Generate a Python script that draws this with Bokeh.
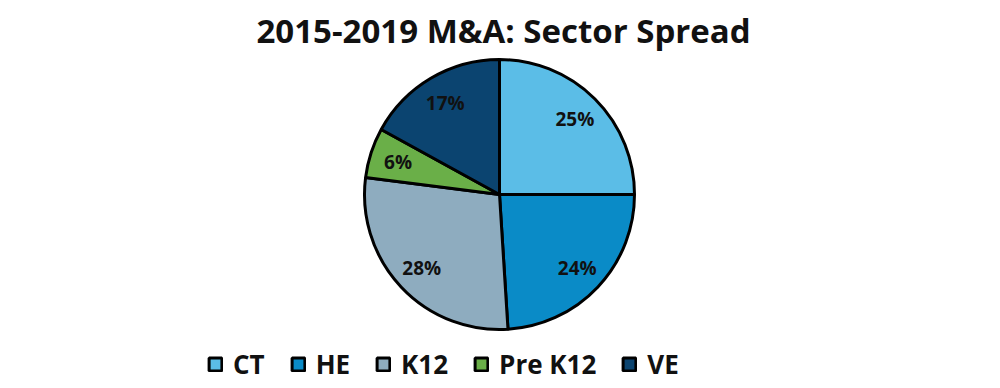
import math
from bokeh.plotting import figure
from bokeh.models import Range1d, Legend, LegendItem, ColumnDataSource
from bokeh.core.properties import value
from bokeh.embed import file_html
from bokeh.resources import INLINE

title_text = "2015-2019 M&A: Sector Spread"
sectors = ["CT", "HE", "K12", "Pre K12", "VE"]
shares = [25, 24, 28, 6, 17]
colors = ["#5bbde7", "#0a8bc7", "#8eacbf", "#6aaf48", "#0b4470"]

FONT = "Open Sans"
FW, FH = 984, 327
cx, cy, R = 499, 190, 135

total = sum(shares)
starts, ends, lx, ly, labels = [], [], [], [], []
cum = 0.0
for s in shares:
    a0 = math.pi / 2 - 2 * math.pi * (cum + s) / total
    a1 = math.pi / 2 - 2 * math.pi * cum / total
    mid = (a0 + a1) / 2
    starts.append(a0)
    ends.append(a1)
    lx.append(cx + 0.79 * R * math.cos(mid))
    ly.append(cy + 0.79 * R * math.sin(mid))
    labels.append(f"{round(100 * s / total)}%")
    cum += s

src = ColumnDataSource(dict(sector=sectors, start=starts, end=ends, color=colors,
                            lx=lx, ly=ly, label=labels))

p = figure(frame_width=FW, frame_height=FH, output_backend="svg", toolbar_location=None,
           x_range=Range1d(0, FW), y_range=Range1d(0, FH), min_border=0,
           title=title_text)
p.axis.visible = False
p.grid.visible = False
p.outline_line_color = None
p.title.align = "left"
p.title.offset = 256
p.title.text_font = FONT
p.title.text_font_size = "33px"
p.title.text_font_style = "bold"
p.title.text_color = "#111111"
p.title.text_line_height = 0.9

r = p.wedge(x=cx, y=cy, radius=R, start_angle="start", end_angle="end",
            fill_color="color", line_color="black", line_width=3, source=src)
p.text(x="lx", y="ly", text="label", source=src, text_font=value(FONT),
       text_font_size="19px", text_font_style="bold", text_align="center",
       text_baseline="middle", text_color="#111111")

items = [LegendItem(label=sectors[i], renderers=[r], index=i) for i in range(len(sectors))]
legend = Legend(items=items, orientation="horizontal", location=(207, 2),
                label_text_font=FONT, label_text_font_size="26px",
                label_text_font_style="bold",
                label_text_color="#111111", glyph_width=16, glyph_height=16,
                label_standoff=10, spacing=25, padding=0, margin=0,
                border_line_color=None, background_fill_alpha=0)
p.add_layout(legend, "center")

open("out.html", "w").write(file_html(p, INLINE))
